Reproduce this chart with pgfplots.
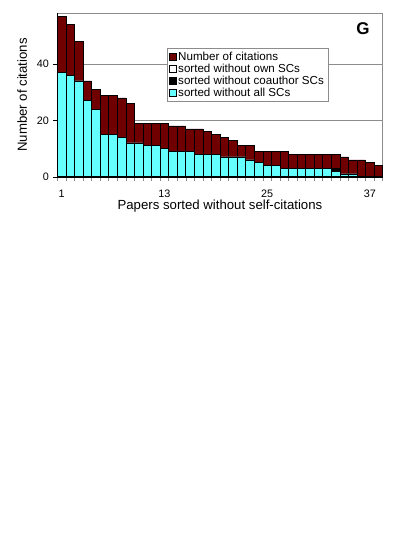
\documentclass[border=0pt]{standalone}
\usepackage{pgfplots}
\pgfplotsset{compat=1.18}
\usepackage{pgfplotstable}
\usepackage{fontspec}
\setmainfont{Liberation Sans}

\definecolor{citred}{RGB}{112,0,0}
\definecolor{citcyan}{RGB}{102,255,255}
\definecolor{gridgray}{RGB}{140,140,140}

% paper, total citations, without own SCs, without coauthor SCs, without all SCs
\pgfplotstableread{
x  total own coauth all
1  57 37 37 37
2  54 36 36 36
3  48 34 34 34
4  34 27 27 27
5  31 24 24 24
6  29 15 15 15
7  29 15 15 15
8  28 14 14 14
9  26 12 12 12
10 19 12 12 12
11 19 11 11 11
12 19 11 11 11
13 19 10 10 10
14 18 9 9 9
15 18 9 9 9
16 17 9 9 9
17 17 8 8 8
18 16 8 8 8
19 15 8 8 8
20 14 7 7 7
21 13 7 7 7
22 11 7 7 7
23 11 6 6 6
24 9 5 5 5
25 9 4 4 4
26 9 4 4 4
27 9 3 3 3
28 8 3 3 3
29 8 3 3 3
30 8 3 3 3
31 8 3 3 3
32 8 3 3 3
33 8 3 3 2
34 7 1 1 1
35 6 1 1 1
36 6 0 0 0
37 5 0 0 0
38 4 0 0 0
}\citdata

\begin{document}
\begin{tikzpicture}
\path[use as bounding box] (0,0) rectangle (392pt,-555pt);
\begin{axis}[
    at={(57.3pt,-176.7pt)}, anchor=south west,
    scale only axis,
    width=325.3pt, height=163.4pt,
    ybar, bar width=1,
    xmin=0.5, xmax=38.5,
    ymin=0, ymax=58,
    xtick={1,13,25,37},
    minor xtick={0.5,1.5,...,38.5},
    ytick={0,20,40},
    tick align=outside,
    xtick pos=bottom, ytick pos=left,
    major x tick style={draw=none},
    minor x tick style={gridgray, thin},
    minor tick length=4pt,
    major tick length=4pt,
    ymajorgrids=true,
    grid style={gridgray, thin},
    axis line style={gridgray},
    tick style={black},
    /pgf/number format/assume math mode=true,
    ticklabel style={font=\fontsize{10.8}{12}\selectfont},
    xticklabel style={yshift=-6pt},
    yticklabel style={xshift=-1pt},
    xlabel={Papers sorted without self-citations},
    ylabel={Number of citations},
    every axis x label/.style={at={(axis description cs:0.5,-0.18)}, anchor=center,
        font=\fontsize{13.2}{15}\selectfont},
    every axis y label/.style={at={(axis description cs:-0.108,0.5)}, rotate=90, anchor=center,
        font=\fontsize{13.2}{15}\selectfont},
    legend style={at={(axis description cs:0.336,0.786)}, anchor=north west,
        draw=gridgray, font=\fontsize{11.6}{12}\selectfont,
        row sep=-2pt, inner xsep=2pt, inner ysep=1.5pt,
        cells={anchor=west}},
    legend image code/.code={\draw[#1, draw=black, line width=0.4pt] (0pt,-3.5pt) rectangle (7pt,3.5pt);},
    clip=false,
]
\addplot[bar shift=0pt, fill=citred, draw=black, line width=0.5pt] table[x=x, y=total] {\citdata};
\addplot[bar shift=0pt, fill=white, draw=black, line width=0.5pt] table[x=x, y=own] {\citdata};
\addplot[bar shift=0pt, fill=black, draw=black, line width=0.5pt] table[x=x, y=coauth] {\citdata};
\addplot[bar shift=0pt, fill=citcyan, draw=black, line width=0.5pt] table[x=x, y=all] {\citdata};
\legend{Number of citations, sorted without own SCs, sorted without coauthor SCs\hspace{15pt}, sorted without all SCs}
\draw[black] (rel axis cs:0,0) -- (rel axis cs:0,1);
\draw[black] (rel axis cs:0,0) -- (rel axis cs:1,0);
\node[font=\fontsize{17}{17}\selectfont\bfseries] at (rel axis cs:0.94,0.904) {G};
\end{axis}
\end{tikzpicture}
\end{document}
